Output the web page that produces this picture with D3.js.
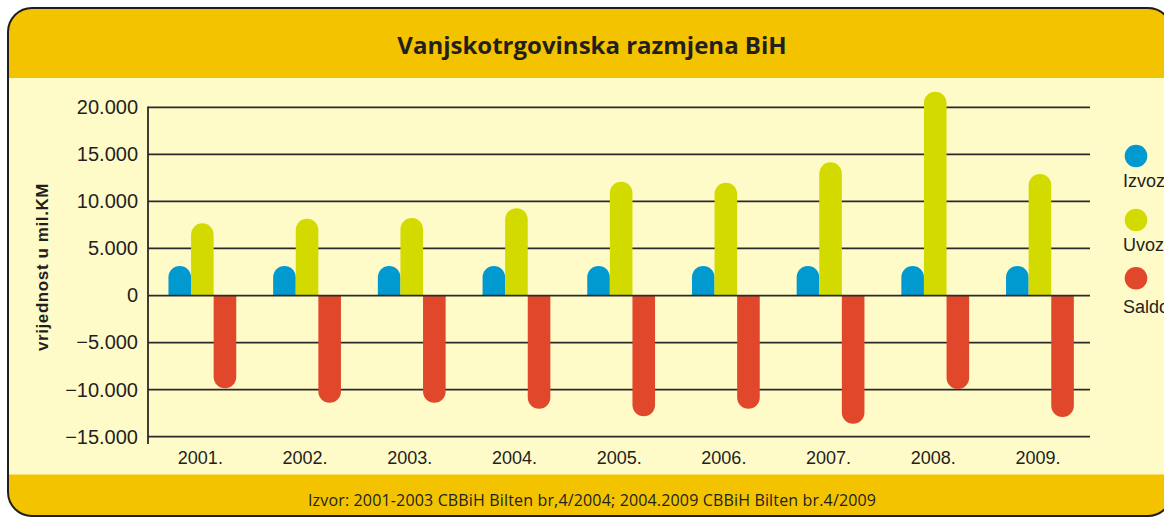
<!DOCTYPE html>
<html>
<head>
<meta charset="utf-8">
<script src="https://cdn.jsdelivr.net/npm/d3@7"></script>
<style>
  html, body { margin: 0; padding: 0; background: #ffffff; }
  svg { display: block; }
</style>
</head>
<body>
<svg id="chart" width="1164" height="517"></svg>
<script>
// ---- data ----
const years = ["2001.", "2002.", "2003.", "2004.", "2005.", "2006.", "2007.", "2008.", "2009."];
const izvoz = [3150, 3150, 3150, 3150, 3150, 3150, 3150, 3150, 3150];
const uvoz  = [7670, 8160, 8240, 9270, 12090, 11990, 14150, 21660, 12910];
const saldo = [-9860, -11390, -11390, -12030, -12840, -12030, -13620, -9930, -12910];
const yTicks = [20000, 15000, 10000, 5000, 0, -5000, -10000, -15000];
const seriesNames = ["Izvoz", "Uvoz", "Saldo"];
const titleText = "Vanjskotrgovinska razmjena BiH";
const yTitleText = "vrijednost u mil.KM";
const sourceText = "Izvor: 2001-2003 CBBiH Bilten br,4/2004; 2004.2009 CBBiH Bilten br.4/2009";

// ---- styling ----
const colors = ["#0099d0", "#d3da00", "#e0472b"];
const gold = "#f3c300";
const cream = "#fffbc9";
const ink = "#231f20";
const sansFont = "'Liberation Sans', Arial, sans-serif";
const titleFont = "'Open Sans', 'Noto Sans', sans-serif";

const svg = d3.select("#chart");

// ---- frame ----
const frame = { x: 8, y: 8, w: 1164, h: 508, r: 24 };
svg.append("defs").append("clipPath").attr("id", "frameClip")
  .append("rect").attr("x", frame.x).attr("y", frame.y)
  .attr("width", frame.w).attr("height", frame.h).attr("rx", frame.r);

const fg = svg.append("g").attr("clip-path", "url(#frameClip)");
fg.append("rect").attr("x", frame.x).attr("y", frame.y).attr("width", frame.w).attr("height", frame.h).attr("fill", gold);
fg.append("rect").attr("x", frame.x).attr("y", 78).attr("width", frame.w).attr("height", 474.5 - 78).attr("fill", cream);
svg.append("rect").attr("x", frame.x).attr("y", frame.y).attr("width", frame.w).attr("height", frame.h)
  .attr("rx", frame.r).attr("fill", "none").attr("stroke", "#1e1e1e").attr("stroke-width", 2);

// title
svg.append("text").attr("x", 592).attr("y", 54).attr("text-anchor", "middle")
  .attr("font-family", titleFont).attr("font-weight", 700).attr("font-size", 24)
  .attr("fill", ink).text(titleText);

// footer
svg.append("text").attr("x", 592).attr("y", 506).attr("text-anchor", "middle")
  .attr("font-family", titleFont).attr("font-size", 16)
  .attr("textLength", 568).attr("lengthAdjust", "spacing")
  .attr("fill", ink).text(sourceText);

// ---- scales ----
const y = d3.scaleLinear().domain([-15000, 20000]).range([436.7, 107.3]);
const x = d3.scaleBand().domain(years).range([150, 1092.3]).paddingInner(0).paddingOuter(0);
const gridX0 = 148, gridX1 = 1090;
const barW = 22.6, rad = barW / 2;

const loc = d3.formatLocale({ decimal: ",", thousands: ".", grouping: [3], currency: ["", ""] });
const fmt = loc.format(",d");

// gridlines
const grid = svg.append("g");
grid.selectAll("line").data(yTicks.filter(d => d !== 0)).join("line")
  .attr("x1", gridX0).attr("x2", gridX1)
  .attr("y1", d => y(d)).attr("y2", d => y(d))
  .attr("stroke", "#2a2a2a").attr("stroke-width", 1.8);

// y axis labels via d3 axis
const yAxis = d3.axisLeft(y).tickValues(yTicks).tickFormat(fmt).tickSize(0).tickPadding(10);
const yg = svg.append("g").attr("transform", `translate(${gridX0},0)`).call(yAxis);
yg.select(".domain").remove();
yg.selectAll("text").attr("font-family", sansFont).attr("font-size", 20).attr("fill", ink);

// bars
function barPath(cx, v) {
  const x0 = cx - rad, x1 = cx + rad, y0 = y(0), yv = y(v);
  if (v >= 0) {
    return `M${x0},${y0}L${x0},${yv + rad}A${rad},${rad} 0 0 1 ${x1},${yv + rad}L${x1},${y0}Z`;
  } else {
    return `M${x0},${y0}L${x0},${yv - rad}A${rad},${rad} 0 0 0 ${x1},${yv - rad}L${x1},${y0}Z`;
  }
}
const allSeries = [izvoz, uvoz, saldo];
const barsG = svg.append("g");
allSeries.forEach((vals, si) => {
  barsG.append("g").selectAll("path").data(vals).join("path")
    .attr("d", (v, i) => barPath(x(years[i]) + x.bandwidth() / 2 + (si - 1) * barW, v))
    .attr("fill", colors[si]);
});

// zero line and axis line on top
svg.append("line").attr("x1", gridX0).attr("x2", gridX1).attr("y1", y(0)).attr("y2", y(0))
  .attr("stroke", "#2a2a2a").attr("stroke-width", 1.8);
svg.append("line").attr("x1", gridX0).attr("x2", gridX0).attr("y1", y(20000) - 0.9).attr("y2", 444)
  .attr("stroke", "#2a2a2a").attr("stroke-width", 1.8);

// x axis labels
const xAxis = d3.axisBottom(x).tickSize(0).tickPadding(0);
const xg = svg.append("g").attr("transform", "translate(-2,451)").call(xAxis);
xg.select(".domain").remove();
xg.selectAll("text").attr("font-family", sansFont).attr("font-size", 18).attr("fill", ink).attr("dy", "0.71em");

// y title
svg.append("text").attr("transform", "translate(48,267) rotate(-90)").attr("text-anchor", "middle")
  .attr("font-family", sansFont).attr("font-weight", 700).attr("font-size", 17)
  .attr("letter-spacing", 0.6).attr("fill", ink).text(yTitleText);

// legend
const legY = [156, 220, 278.3];
const legTextY = [187, 251, 313];
const leg = svg.append("g");
seriesNames.forEach((n, i) => {
  leg.append("circle").attr("cx", 1136).attr("cy", legY[i]).attr("r", 11.3).attr("fill", colors[i]);
  leg.append("text").attr("x", 1123).attr("y", legTextY[i]).attr("font-family", sansFont)
    .attr("font-size", 18).attr("fill", ink).text(n);
});
</script>
</body>
</html>
